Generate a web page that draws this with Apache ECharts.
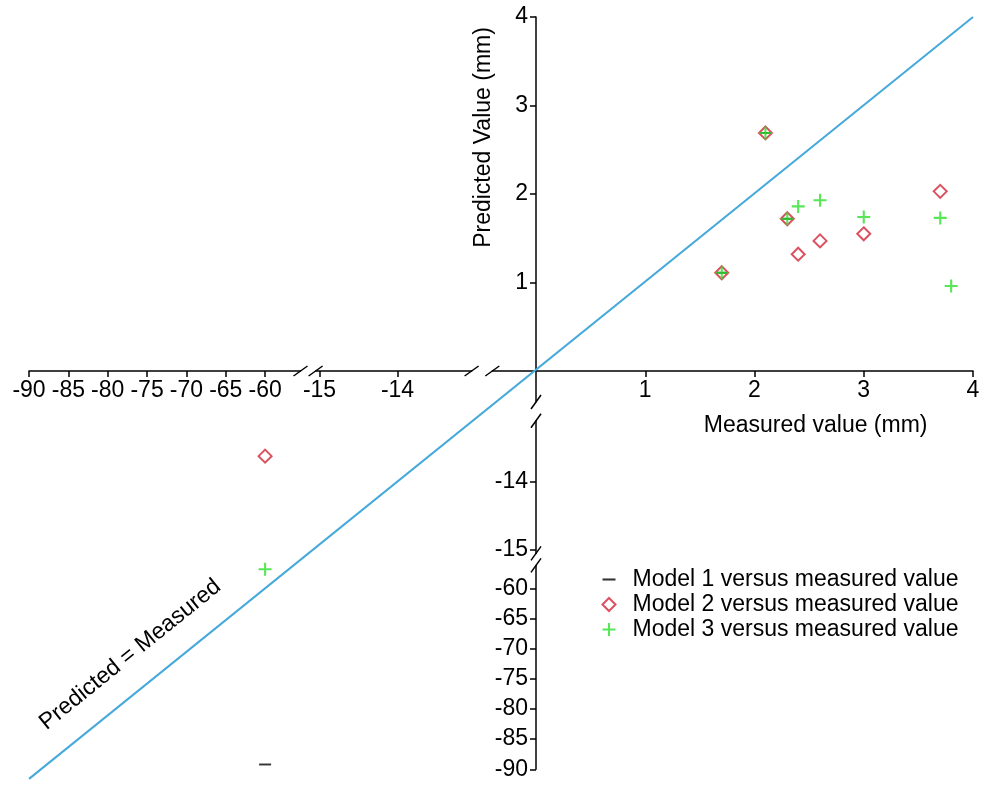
<!DOCTYPE html>
<html><head><meta charset="utf-8">
<script src="https://cdn.jsdelivr.net/npm/echarts@6/dist/echarts.min.js"></script>
<style>html,body{margin:0;padding:0;background:#fff}#c{width:988px;height:785px}</style>
</head><body><div id="c"></div>
<script>
// ---------------- data ----------------
const xTicksLow = [-90, -85, -80, -75, -70, -65, -60];
const xTicksMid = [-15, -14];
const xTicksPos = [1, 2, 3, 4];
const yTicksPos = [1, 2, 3, 4];
const yTicksMid = [-14, -15];
const yTicksLow = [-60, -65, -70, -75, -80, -85, -90];

const seriesNames = ['Model 1 versus measured value', 'Model 2 versus measured value', 'Model 3 versus measured value'];

const model1Pos = [[1.7, 1.11], [2.1, 2.69], [2.3, 1.72]];
const model1Low = [[-60, -89.2]];
const model2Pos = [[1.7, 1.11], [2.1, 2.69], [2.3, 1.72], [2.4, 1.32], [2.6, 1.47], [3.0, 1.55], [3.7, 2.03]];
const model2Mid = [[-60, -13.62]];
const model3Pos = [[1.7, 1.11], [2.1, 2.69], [2.3, 1.72], [2.4, 1.86], [2.6, 1.93], [3.0, 1.74], [3.7, 1.73], [3.8, 0.96]];
const model3Low = [[-60, -56.85]];
const identityPts = [[4, 4], [-60, -60]];   // Predicted = Measured
const identityLabel = 'Predicted = Measured';

// ---------------- layout ----------------
const FONT = '"Liberation Sans", Arial, sans-serif';
const FS = 23;
const RED = '#D22638', GREEN = '#2CE02C', BLUE = '#46A9DB';
const DASH = 'path://M0,0M10,10M0,4.2H10V5.8H0Z';
const PLUS = 'path://M4.2,0H5.8V4.2H10V5.8H5.8V10H4.2V5.8H0V4.2H4.2Z';

const XS = {
  low: {min: -90, max: -55.5, left: 29, k: 7.87},
  mid: {min: -15.05, max: -13.05, left: 315.6, k: 78},
  pos: {min: -0.4, max: 4, left: 492.3, k: 109.25}
};
const YS = {
  pos: {min: -0.35, max: 4, top: 17, k: 88.5},
  mid: {min: -15.05, max: -13.1, top: 420.8, k: 68},
  low: {min: -90, max: -56.2, top: 565.4, k: 6.033}
};
const AXIS_Y0 = YS.pos.top + YS.pos.max * YS.pos.k;   // pixel row of y=0
const AXIS_X0 = XS.pos.left - XS.pos.min * XS.pos.k;  // pixel col of x=0

function gridOf(xs, ys) {
  return {left: xs.left, top: ys.top, width: (xs.max - xs.min) * xs.k, height: (ys.max - ys.min) * ys.k};
}
const grids = [
  gridOf(XS.pos, YS.pos),
  {left: XS.mid.left, top: YS.pos.top, width: (XS.mid.max - XS.mid.min) * XS.mid.k, height: AXIS_Y0 - YS.pos.top},
  {left: XS.low.left, top: YS.pos.top, width: (XS.low.max - XS.low.min) * XS.low.k, height: AXIS_Y0 - YS.pos.top},
  {left: AXIS_X0, top: YS.mid.top, width: 437, height: (YS.mid.max - YS.mid.min) * YS.mid.k},
  {left: AXIS_X0, top: YS.low.top, width: 437, height: (YS.low.max - YS.low.min) * YS.low.k},
  gridOf(XS.low, YS.mid),
  gridOf(XS.low, YS.low)
];

function axis(gridIndex, seg, ticks, extra) {
  return Object.assign({
    type: 'value', gridIndex, min: seg.min, max: seg.max,
    splitLine: {show: false},
    axisLine: {show: true, onZero: false, lineStyle: {color: '#000', width: 1.5}},
    axisTick: {show: true, length: 6, customValues: ticks, lineStyle: {color: '#000', width: 1.5}},
    axisLabel: {show: true, customValues: ticks, color: '#000', fontSize: FS, fontFamily: FONT, margin: 8}
  }, extra || {});
}
function hidden(gridIndex, min, max) {
  return {type: 'value', gridIndex, min, max, show: false, splitLine: {show: false}};
}

const xAxes = [
  axis(0, XS.pos, xTicksPos, {
    position: 'bottom',
    offset: -(0 - YS.pos.min) * YS.pos.k,     // place the axis on y = 0
    name: 'Measured value (mm)', nameLocation: 'middle', nameGap: 43, nameMoveOverlap: false,
    nameTextStyle: {fontSize: FS, fontFamily: FONT, color: '#000', padding: [0, 0, 0, 166]}
  }),
  axis(1, XS.mid, xTicksMid, {position: 'bottom'}),
  axis(2, XS.low, xTicksLow, {position: 'bottom'}),
  hidden(3, 0, 4), hidden(4, 0, 4),
  hidden(5, XS.low.min, XS.low.max), hidden(6, XS.low.min, XS.low.max)
];
const yAxes = [
  axis(0, YS.pos, yTicksPos, {
    position: 'left',
    offset: -(0 - XS.pos.min) * XS.pos.k,     // place the axis on x = 0
    name: 'Predicted Value (mm)', nameLocation: 'middle', nameGap: 41, nameMoveOverlap: false,
    nameTextStyle: {fontSize: FS, fontFamily: FONT, color: '#000', padding: [0, 0, 0, 144]}
  }),
  hidden(1, 0, 4), hidden(2, 0, 4),
  axis(3, YS.mid, yTicksMid, {position: 'left'}),
  axis(4, YS.low, yTicksLow, {position: 'left'}),
  hidden(5, YS.mid.min, YS.mid.max), hidden(6, YS.low.min, YS.low.max)
];

const m1Style = {symbol: DASH, symbolSize: 12, itemStyle: {color: '#000'}};
const m2Style = {symbol: 'diamond', symbolSize: 13, itemStyle: {color: 'rgba(255,255,255,0)', borderColor: RED, borderWidth: 2}};
const m3Style = {symbol: PLUS, symbolSize: 13, itemStyle: {color: GREEN}};
function sc(name, gi, data, st) {
  return Object.assign({type: 'scatter', name, xAxisIndex: gi, yAxisIndex: gi, data, silent: true}, st);
}

const chart = echarts.init(document.getElementById('c'), null, {renderer: 'canvas'});
chart.setOption({
  animation: false,
  backgroundColor: '#fff',
  textStyle: {fontFamily: FONT},
  grid: grids,
  xAxis: xAxes,
  yAxis: yAxes,
  legend: {
    orient: 'vertical', left: 596.5, top: 563, itemWidth: 13, itemHeight: 13, itemGap: 2,
    selectedMode: false,
    textStyle: {fontSize: FS, fontFamily: FONT, color: '#000', padding: [0, 0, 0, 12]},
    data: [
      {name: seriesNames[0], icon: DASH, itemStyle: {color: '#000'}},
      {name: seriesNames[1], icon: 'diamond', itemStyle: {color: '#fff', borderColor: RED, borderWidth: 2}},
      {name: seriesNames[2], icon: PLUS, itemStyle: {color: GREEN}}
    ]
  },
  series: [
    sc(seriesNames[0], 0, model1Pos, m1Style),
    sc(seriesNames[0], 6, model1Low, m1Style),
    sc(seriesNames[1], 0, model2Pos, m2Style),
    sc(seriesNames[1], 5, model2Mid, m2Style),
    sc(seriesNames[2], 0, model3Pos, m3Style),
    sc(seriesNames[2], 6, model3Low, m3Style)
  ]
});

// ---- identity line, its label and axis break marks (positions from the chart's own scales) ----
const px = (gi, p) => chart.convertToPixel({gridIndex: gi}, p);
const A = px(0, identityPts[0]);
const B = px(6, identityPts[1]);
const xEnd = px(6, [XS.low.min, YS.low.min])[0];
const s = (B[0] - xEnd) / (A[0] - B[0]);
const E = [B[0] - (A[0] - B[0]) * s, B[1] - (A[1] - B[1]) * s];
const theta = Math.atan2(E[1] - A[1], A[0] - E[0]);
const footX = 151;
const footY = B[1] + (B[0] - footX) * Math.tan(theta);
const off = 33;
const tx = footX - off * Math.sin(theta), ty = footY - off * Math.cos(theta);

const graphics = [
  {type: 'line', z: 1, shape: {x1: A[0], y1: A[1], x2: E[0], y2: E[1]}, style: {stroke: BLUE, lineWidth: 2}},
  {type: 'text', z: 3, x: tx, y: ty, rotation: theta,
   style: {text: identityLabel, fontSize: FS, fontFamily: FONT, fill: '#000', align: 'center', verticalAlign: 'middle', textAlign: 'center', textVerticalAlign: 'middle'}}
];
const xBreaks = [px(2, [XS.low.max, 0]), px(1, [XS.mid.min, 0]), px(1, [XS.mid.max, 0]), px(0, [XS.pos.min, 0])];
const yBreaks = [px(0, [0, YS.pos.min]), px(3, [0, YS.mid.max]), px(3, [0, YS.mid.min]), px(4, [0, YS.low.max])];
xBreaks.forEach(p => graphics.push({type: 'line', z: 5, shape: {x1: p[0] - 7, y1: p[1] + 5, x2: p[0] + 7, y2: p[1] - 5}, style: {stroke: '#000', lineWidth: 1.5}}));
yBreaks.forEach(p => graphics.push({type: 'line', z: 5, shape: {x1: p[0] - 5, y1: p[1] + 7, x2: p[0] + 5, y2: p[1] - 7}, style: {stroke: '#000', lineWidth: 1.5}}));
chart.setOption({graphic: graphics});
</script></body></html>
